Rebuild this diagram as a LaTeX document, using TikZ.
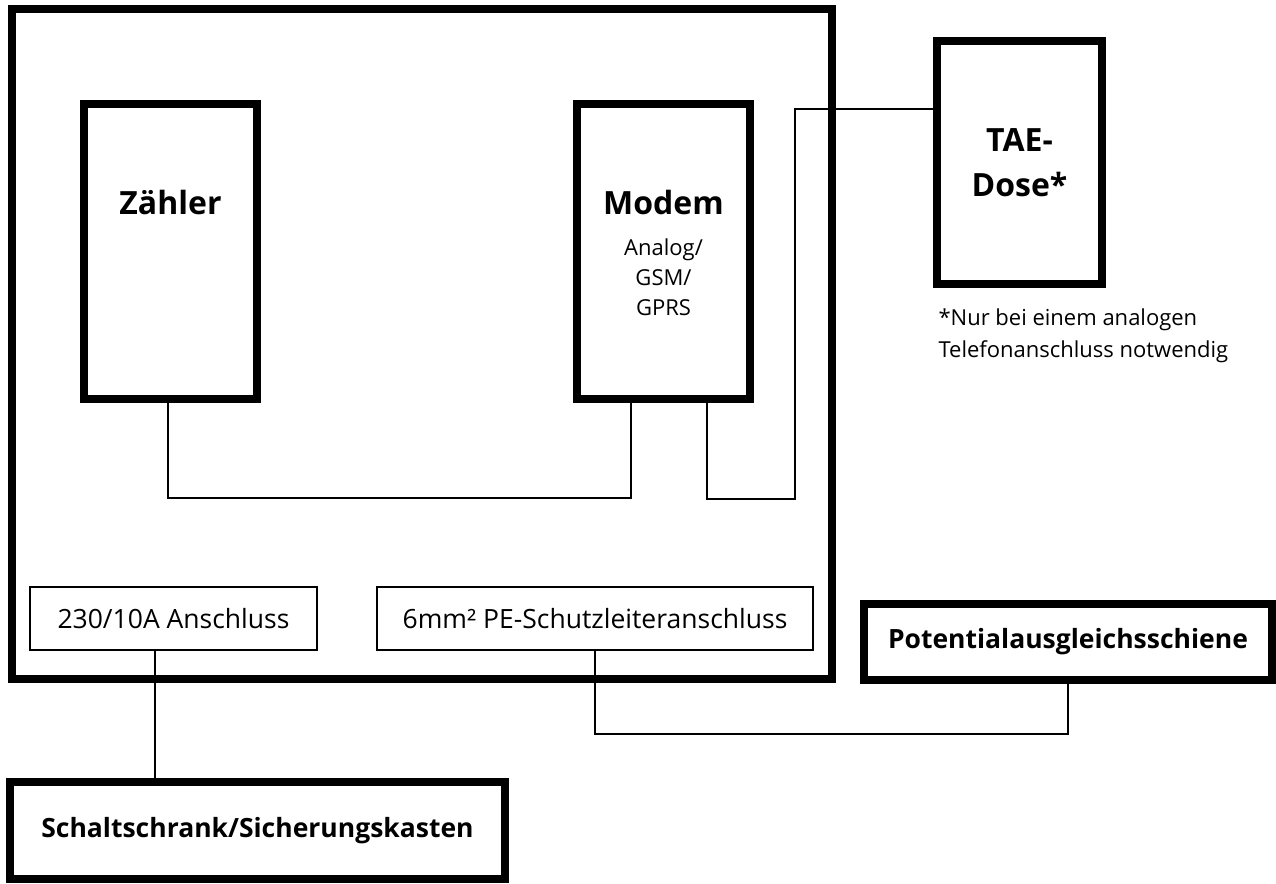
\documentclass[tikz,border=0pt]{standalone}
\usepackage{fontspec}
\setmainfont{Open Sans}
\usepackage{tikz}

\tikzset{
	unit/.style={draw, line width=8pt, inner sep=0pt},
	port/.style={draw, line width=2pt, inner sep=0pt, font=\fontsize{26.5}{30}\selectfont},
	wire/.style={line width=2.5pt},
	title/.style={font=\bfseries\fontsize{32}{45}\selectfont, align=center},
	smalltitle/.style={font=\bfseries\fontsize{26.5}{30}\selectfont},
	note/.style={font=\fontsize{22}{30}\selectfont, align=center}
}

\begin{document}
\begin{tikzpicture}[x=1pt,y=-1pt]
		\useasboundingbox (0,0) rectangle (1276,883);
		% Gehaeuse
		\node[unit, minimum width=820pt, minimum height=670pt] (schrank) at (422,344) {};
		\node[unit, minimum width=173pt, minimum height=295pt] (zaehler) at (170.5,251.5) {};
		\node[unit, minimum width=173pt, minimum height=295pt] (modem) at (663.5,251.5) {};
		\node[title] (zaehlertext) at (170.5,202) {Zähler};
		\node[title] (modemtext) at (663.5,202) {Modem};
		\node[note] (modeminfo) at (663.5,277) {Analog/\\GSM/\\GPRS};
		\node[unit, title, minimum width=165pt, minimum height=243pt] (tae) at (1019.5,162.5) {TAE-\\Dose*};
		\node[note, font=\fontsize{22}{32}\selectfont, align=left, anchor=west] (taeinfo) at (935,336) {*Nur bei einem analogen\\Telefonanschluss notwendig};
		% Anschluesse
		\node[port, minimum width=287pt, minimum height=63pt] (netz) at (173.5,618.5) {230/10A Anschluss};
		\node[port, minimum width=436pt, minimum height=63pt] (pe) at (595,618.5) {6mm² PE-Schutzleiteranschluss};
		\node[unit, smalltitle, minimum width=408pt, minimum height=76pt] (pas) at (1068,642) {Potentialausgleichsschiene};
		\node[unit, smalltitle, minimum width=495pt, minimum height=97pt] (verteiler) at (257.5,830.5) {Schaltschrank/Sicherungskasten};
		% Leitungen
		\draw[wire] ([xshift=-2.5pt]zaehler.south) -- ++(0,95) -| ([xshift=-32.5pt]modem.south);
		\draw[wire] ([xshift=43.5pt]modem.south) -- ++(0,96) -- ++(88,0) |- ([yshift=53.5pt]tae.west);
		\draw[wire] (pe.south) -- ++(0,83) -| (pas.south);
		\draw[wire] ([xshift=-18.5pt]netz.south) -- ([xshift=-102.5pt]verteiler.north);
	\end{tikzpicture}
\end{document}
